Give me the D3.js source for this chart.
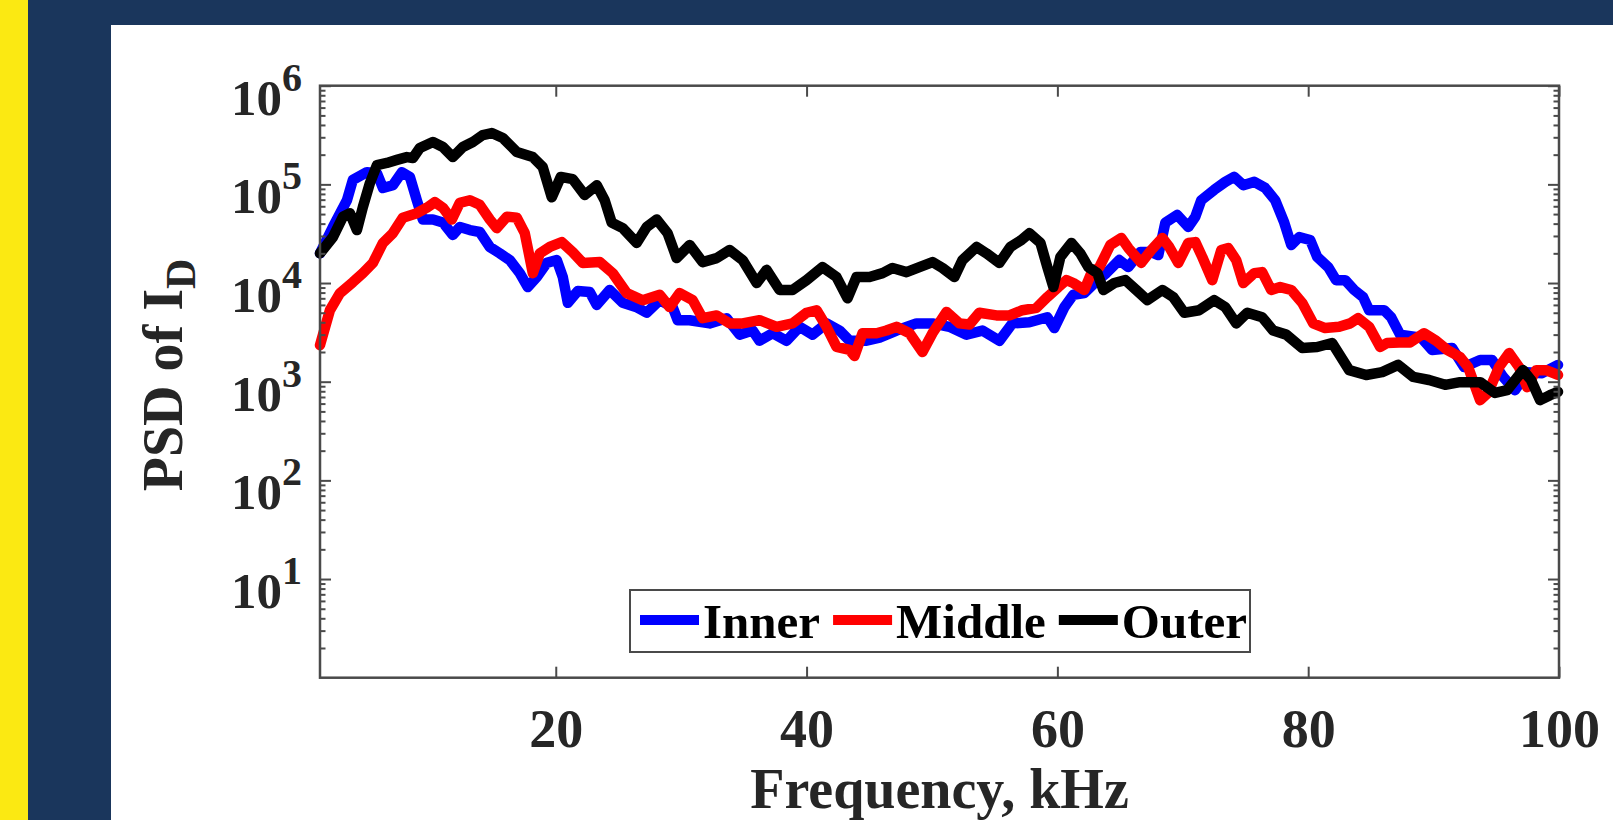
<!DOCTYPE html>
<html>
<head>
<meta charset="utf-8">
<script src="https://cdn.jsdelivr.net/npm/d3@7"></script>
<style>
  html, body { margin: 0; padding: 0; background: #ffffff; }
  svg { display: block; }
</style>
</head>
<body>
<svg id="chart" width="1613" height="820"></svg>
<script>
// PSD of drain current at three radial positions, 1–100 kHz

const innerFreq = [1.20,2.23,3.35,3.82,4.94,5.74,6.22,7.01,7.73,8.37,8.92,9.40,10.20,11.00,11.79,12.35,13.15,13.94,14.74,15.54,16.33,17.13,17.77,18.49,19.28,20.08,20.56,20.96,21.75,22.71,23.27,24.30,25.34,26.45,27.25,28.29,29.32,29.72,30.68,32.27,33.63,34.66,35.70,36.25,37.29,38.41,39.44,40.48,41.59,42.63,43.43,44.78,45.82,47.17,48.76,50.04,51.39,52.75,54.02,55.38,56.41,57.77,59.20,59.76,60.56,61.27,62.15,63.03,63.90,64.94,65.66,66.61,67.49,68.05,68.61,69.56,70.44,71.00,71.47,72.51,73.39,74.10,74.82,75.70,76.57,77.37,78.09,78.65,79.28,80.16,80.72,81.59,82.23,82.95,83.67,84.38,84.86,86.06,86.61,87.33,89.00,89.88,91.47,92.43,93.71,94.66,95.54,96.49,97.45,98.65,99.92];
const innerPsd = [2.0e4,3.7e4,6.9e4,1.11e5,1.33e5,1.30e5,9.2e4,9.8e4,1.33e5,1.19e5,6.9e4,4.4e4,4.4e4,4.1e4,3.07e4,3.7e4,3.44e4,3.29e4,2.32e4,2.0e4,1.71e4,1.26e4,9.1e3,1.15e4,1.60e4,1.71e4,1.15e4,6.3e3,8.3e3,8.1e3,6.0e3,8.5e3,6.3e3,5.7e3,5.0e3,6.7e3,5.7e3,4.2e3,4.2e3,3.9e3,4.4e3,3.0e3,3.3e3,2.6e3,3.1e3,2.6e3,3.6e3,3.0e3,3.9e3,3.3e3,2.6e3,2.6e3,2.8e3,3.3e3,3.9e3,3.9e3,3.6e3,3.0e3,3.3e3,2.6e3,3.9e3,4.0e3,4.5e3,3.5e3,5.7e3,7.6e3,7.9e3,1.02e4,1.26e4,1.71e4,1.45e4,2.06e4,2.06e4,1.92e4,4.1e4,4.9e4,3.7e4,4.7e4,6.9e4,8.8e4,1.06e5,1.19e5,9.8e4,1.06e5,9.2e4,6.9e4,4.1e4,2.43e4,2.92e4,2.73e4,1.84e4,1.45e4,1.07e4,1.07e4,8.5e3,7.2e3,5.3e3,5.3e3,4.5e3,3.0e3,2.8e3,2.1e3,2.2e3,1.41e3,1.66e3,1.66e3,1.12e3,8.2e2,1.25e3,1.22e3,1.48e3];

const middleFreq = [1.20,1.99,2.79,3.82,4.62,5.42,6.22,7.01,7.81,8.92,9.72,10.36,11.00,11.71,12.35,13.15,13.94,14.74,15.30,16.10,16.89,17.53,18.17,18.73,19.52,20.48,21.35,22.15,23.51,24.54,25.66,26.93,28.29,29.08,29.88,30.92,31.71,32.83,33.86,34.90,36.25,37.61,38.88,40.00,40.80,41.59,42.39,43.43,43.82,44.46,45.58,46.37,47.17,48.21,49.24,50.04,51.16,52.19,52.99,53.78,55.14,56.18,57.21,58.33,59.20,60.08,60.72,61.27,62.15,62.71,63.35,64.22,65.10,65.66,66.69,67.49,68.37,68.92,69.64,70.44,71.00,71.55,72.35,73.07,73.63,74.26,74.82,75.70,76.33,77.05,77.77,78.65,79.52,80.40,81.35,82.47,83.35,83.98,84.86,85.74,86.29,87.25,88.13,89.24,90.20,91.08,92.11,92.75,93.71,94.34,95.22,96.02,96.81,97.45,98.17,98.96,99.92];
const middlePsd = [2.35e3,5.3e3,7.9e3,1.02e4,1.26e4,1.60e4,2.55e4,3.2e4,4.6e4,5.1e4,5.8e4,6.6e4,5.8e4,4.4e4,6.5e4,6.9e4,6.2e4,4.4e4,3.6e4,4.7e4,4.6e4,3.2e4,1.26e4,2.0e4,2.32e4,2.6e4,2.06e4,1.60e4,1.63e4,1.26e4,7.9e3,6.7e3,7.6e3,5.7e3,7.9e3,6.7e3,4.4e3,4.7e3,3.9e3,3.9e3,4.2e3,3.6e3,3.9e3,5.0e3,5.3e3,3.6e3,2.25e3,2.1e3,1.82e3,3.1e3,3.1e3,3.3e3,3.6e3,3.1e3,2.0e3,3.1e3,5.1e3,3.9e3,3.8e3,5.0e3,4.7e3,4.7e3,5.3e3,5.6e3,7.2e3,9.1e3,1.07e4,1.0e4,8.5e3,1.26e4,1.45e4,2.43e4,2.86e4,2.26e4,1.60e4,2.16e4,2.86e4,2.32e4,1.60e4,2.55e4,2.6e4,1.84e4,1.07e4,2.16e4,2.26e4,1.71e4,1.0e4,1.26e4,1.29e4,8.5e3,9.1e3,8.5e3,6.3e3,3.9e3,3.5e3,3.6e3,3.9e3,4.4e3,3.6e3,2.25e3,2.47e3,2.5e3,2.5e3,3.1e3,2.6e3,2.1e3,1.78e3,1.41e3,6.5e2,7.7e2,1.41e3,1.95e3,1.41e3,8.8e2,1.31e3,1.31e3,1.17e3];

const outerFreq = [1.20,2.23,3.03,3.59,4.14,4.62,5.18,5.74,6.53,7.33,8.13,8.61,9.16,10.20,11.00,11.79,12.59,13.39,14.18,14.90,15.78,16.89,18.17,18.96,19.68,20.40,21.35,22.31,23.27,23.90,24.46,25.34,26.45,27.25,28.05,28.92,29.64,30.68,31.71,32.83,33.86,34.90,36.02,36.81,37.85,38.88,40.00,41.27,42.39,43.27,43.98,45.02,46.06,46.85,47.97,49.00,50.04,50.84,51.79,52.43,53.55,54.34,55.38,56.25,57.13,57.77,58.65,59.20,59.68,60.24,61.12,61.83,62.47,63.19,63.67,64.54,65.42,66.29,67.17,68.37,69.24,70.12,71.31,72.51,73.39,74.26,75.14,76.33,77.21,78.25,79.52,80.72,81.91,83.27,84.62,85.90,87.17,88.37,89.64,90.92,92.11,93.71,94.90,95.86,97.13,97.77,98.49,99.28,99.92];
const outerPsd = [2.0e4,2.92e4,4.7e4,5.1e4,3.44e4,5.9e4,1.03e5,1.57e5,1.65e5,1.77e5,1.89e5,1.85e5,2.34e5,2.69e5,2.39e5,1.89e5,2.39e5,2.69e5,3.16e5,3.31e5,2.95e5,2.13e5,1.89e5,1.5e5,7.4e4,1.19e5,1.13e5,7.8e4,9.8e4,6.9e4,4.1e4,3.6e4,2.55e4,3.7e4,4.4e4,3.2e4,1.79e4,2.43e4,1.63e4,1.79e4,2.16e4,1.71e4,1.0e4,1.36e4,8.5e3,8.5e3,1.07e4,1.45e4,1.15e4,7.0e3,1.15e4,1.15e4,1.26e4,1.42e4,1.29e4,1.45e4,1.63e4,1.42e4,1.15e4,1.71e4,2.32e4,2.0e4,1.60e4,2.32e4,2.73e4,3.2e4,2.55e4,1.45e4,9.1e3,1.84e4,2.55e4,2.0e4,1.45e4,1.26e4,8.5e3,1.0e4,1.07e4,8.5e3,6.7e3,8.5e3,7.2e3,5.0e3,5.3e3,6.7e3,5.7e3,3.9e3,5.0e3,4.5e3,3.3e3,3.0e3,2.2e3,2.25e3,2.47e3,1.31e3,1.17e3,1.25e3,1.48e3,1.12e3,1.04e3,9.3e2,9.9e2,9.9e2,7.7e2,8.2e2,1.31e3,1.04e3,6.5e2,7.3e2,7.9e2];

const seriesNames = ["Inner", "Middle", "Outer"];
const seriesColors = ["#0000ff", "#ff0000", "#000000"];

const xTicks = [20, 40, 60, 80, 100];
const yExponents = [1, 2, 3, 4, 5, 6];

const xTitle = "Frequency, kHz";
const yTitleMain = "PSD of I";
const yTitleSub = "D";

// ---- layout ----
const W = 1613, H = 820;
const plot = { left: 320, right: 1559, top: 85.7, bottom: 677.7 };
const FONT = "'Liberation Serif', 'Times New Roman', serif";
const AXIS_COLOR = "#4a4a4a";
const TEXT_COLOR = "#262626";

const svg = d3.select("#chart");

// slide background: yellow strip, navy frame, white panel
svg.append("rect").attr("x", 0).attr("y", 0).attr("width", W).attr("height", H).attr("fill", "#1a365c");
svg.append("rect").attr("x", 0).attr("y", 0).attr("width", 28).attr("height", H).attr("fill", "#fbe912");
svg.append("rect").attr("x", 111).attr("y", 25).attr("width", W - 111).attr("height", H - 25).attr("fill", "#ffffff");

const x = d3.scaleLinear().domain([1.2, 100]).range([plot.left, plot.right]);
const y = d3.scaleLog().domain([1, 1e6]).range([plot.bottom, plot.top]);

// ---- series ----
const series = [
  { name: seriesNames[0], color: seriesColors[0], f: innerFreq, p: innerPsd },
  { name: seriesNames[1], color: seriesColors[1], f: middleFreq, p: middlePsd },
  { name: seriesNames[2], color: seriesColors[2], f: outerFreq, p: outerPsd }
];

const line = d3.line()
  .x(d => x(d[0]))
  .y(d => y(d[1]));

const gLines = svg.append("g");
series.forEach(s => {
  gLines.append("path")
    .datum(s.f.map((f, i) => [f, s.p[i]]))
    .attr("d", line)
    .attr("fill", "none")
    .attr("stroke", s.color)
    .attr("stroke-width", 10.5)
    .attr("stroke-linejoin", "round")
    .attr("stroke-linecap", "round");
});

// ---- axes box and ticks ----
const majorY = yExponents.map(e => Math.pow(10, e));
const minorY = [];
for (let e = 0; e < 6; e++) for (let m = 2; m <= 9; m++) minorY.push(m * Math.pow(10, e));

function styleAxis(g) {
  g.select(".domain").remove();
  g.selectAll(".tick line").attr("stroke", AXIS_COLOR).attr("stroke-width", 2);
}

// bottom axis with labels
const xAxisG = svg.append("g")
  .attr("transform", `translate(0,${plot.bottom})`)
  .call(d3.axisBottom(x).tickValues(xTicks).tickSize(-11).tickPadding(31).tickFormat(d3.format("d")));
styleAxis(xAxisG);
xAxisG.selectAll(".tick text")
  .attr("font-family", FONT).attr("font-weight", "bold").attr("font-size", 54)
  .attr("fill", TEXT_COLOR);

// top axis ticks
const xTopG = svg.append("g")
  .attr("transform", `translate(0,${plot.top})`)
  .call(d3.axisTop(x).tickValues(xTicks).tickSize(-11).tickFormat(""));
styleAxis(xTopG);

// left axis: major + minor ticks
const yLeftG = svg.append("g")
  .attr("transform", `translate(${plot.left},0)`)
  .call(d3.axisLeft(y).tickValues(majorY).tickSize(-11).tickFormat(""));
styleAxis(yLeftG);
const yLeftMinor = svg.append("g")
  .attr("transform", `translate(${plot.left},0)`)
  .call(d3.axisLeft(y).tickValues(minorY).tickSize(-5.5).tickFormat(""));
styleAxis(yLeftMinor);

// right axis: major + minor ticks
const yRightG = svg.append("g")
  .attr("transform", `translate(${plot.right},0)`)
  .call(d3.axisRight(y).tickValues(majorY).tickSize(-11).tickFormat(""));
styleAxis(yRightG);
const yRightMinor = svg.append("g")
  .attr("transform", `translate(${plot.right},0)`)
  .call(d3.axisRight(y).tickValues(minorY).tickSize(-5.5).tickFormat(""));
styleAxis(yRightMinor);

// box
svg.append("rect")
  .attr("x", plot.left).attr("y", plot.top)
  .attr("width", plot.right - plot.left).attr("height", plot.bottom - plot.top)
  .attr("fill", "none").attr("stroke", AXIS_COLOR).attr("stroke-width", 2.5);

// y tick labels as 10^n
const yLabelG = svg.append("g");
yExponents.forEach(e => {
  const ty = y(Math.pow(10, e));
  const t = yLabelG.append("text")
    .attr("x", 302).attr("y", ty + 29)
    .attr("text-anchor", "end")
    .attr("font-family", FONT).attr("font-weight", "bold")
    .attr("fill", TEXT_COLOR);
  t.append("tspan").attr("font-size", 51).text("10");
  t.append("tspan").attr("font-size", 40).attr("dy", -24).text(String(e));
});

// axis titles
svg.append("text")
  .attr("x", (plot.left + plot.right) / 2).attr("y", 808)
  .attr("text-anchor", "middle")
  .attr("font-family", FONT).attr("font-weight", "bold").attr("font-size", 56)
  .attr("fill", TEXT_COLOR)
  .text(xTitle);

const yTitle = svg.append("text")
  .attr("transform", "translate(182,375) rotate(-90)")
  .attr("text-anchor", "middle")
  .attr("font-family", FONT).attr("font-weight", "bold")
  .attr("fill", TEXT_COLOR);
yTitle.append("tspan").attr("font-size", 56).text(yTitleMain);
yTitle.append("tspan").attr("font-size", 42).attr("dy", 13).text(yTitleSub);

// ---- legend ----
const legend = { left: 630, top: 590, right: 1250, bottom: 652 };
const lg = svg.append("g");
lg.append("rect")
  .attr("x", legend.left).attr("y", legend.top)
  .attr("width", legend.right - legend.left).attr("height", legend.bottom - legend.top)
  .attr("fill", "#ffffff").attr("stroke", AXIS_COLOR).attr("stroke-width", 2);

let cx = 640;
series.forEach(s => {
  lg.append("line")
    .attr("x1", cx).attr("x2", cx + 59)
    .attr("y1", 620).attr("y2", 620)
    .attr("stroke", s.color).attr("stroke-width", 10);
  const t = lg.append("text")
    .attr("x", cx + 63).attr("y", 638)
    .attr("font-family", FONT).attr("font-weight", "bold").attr("font-size", 49)
    .attr("fill", "#000000")
    .text(s.name);
  cx = cx + 63 + t.node().getComputedTextLength() + 13;
});
</script>
</body>
</html>
